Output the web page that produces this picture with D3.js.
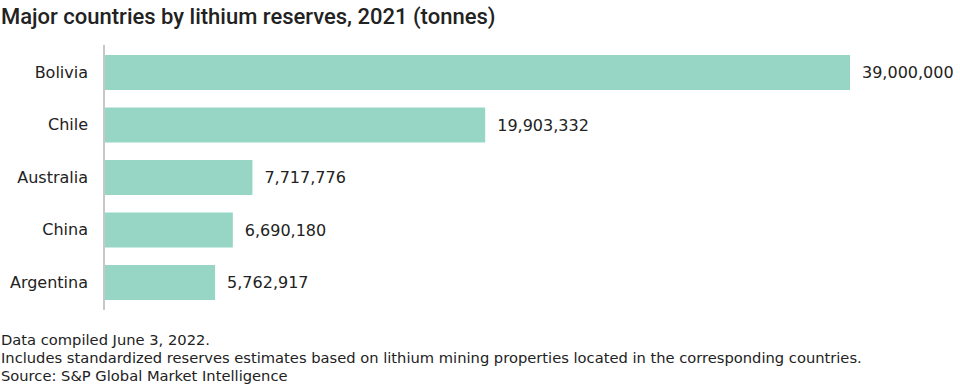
<!DOCTYPE html>
<html>
<head>
<meta charset="utf-8">
<script src="https://cdn.jsdelivr.net/npm/d3@7"></script>
<style>
  body { margin: 0; background: #fff; }
  text { font-family: "DejaVu Sans", sans-serif; fill: #222; }
</style>
</head>
<body>
<div id="chart"></div>
<script>
const countries = ["Bolivia", "Chile", "Australia", "China", "Argentina"];
const reserves = [39000000, 19903332, 7717776, 6690180, 5762917];
const notes = [
  "Data compiled June 3, 2022.",
  "Includes standardized reserves estimates based on lithium mining properties located in the corresponding countries.",
  "Source: S&P Global Market Intelligence"
];

const width = 960, height = 390;
const data = countries.map((c, i) => ({ country: c, value: reserves[i] }));

const svg = d3.select("#chart")
  .append("svg")
  .attr("width", width)
  .attr("height", height);

// title
svg.append("text")
  .attr("x", 1)
  .attr("y", 24)
  .style("font-family", "Roboto, sans-serif")
  .style("font-size", "22px")
  .style("font-weight", 500)
  .text("Major countries by lithium reserves, 2021 (tonnes)");

const x = d3.scaleLinear()
  .domain([0, 39000000])
  .range([105, 850]);

const y = d3.scaleBand()
  .domain(countries)
  .range([46.25, 308.75])
  .paddingInner(1 / 3)
  .paddingOuter(1 / 6);

// bars
svg.selectAll("rect.bar")
  .data(data)
  .join("rect")
  .attr("class", "bar")
  .attr("x", x(0))
  .attr("y", d => y(d.country))
  .attr("width", d => x(d.value) - x(0))
  .attr("height", y.bandwidth())
  .attr("fill", "#97d5c4");

// category axis
const yAxis = svg.append("g")
  .attr("transform", `translate(${x(0) - 1},0)`)
  .call(d3.axisLeft(y).tickSize(0).tickPadding(16));
yAxis.select(".domain").remove();
yAxis.selectAll("text")
  .style("font-family", "DejaVu Sans, sans-serif")
  .style("font-size", "16px")
  .attr("fill", "#222");

svg.append("line")
  .attr("x1", x(0) - 1).attr("x2", x(0) - 1)
  .attr("y1", 45).attr("y2", 310)
  .attr("stroke", "#b5b5b5")
  .attr("stroke-width", 1.5);

// value labels
svg.selectAll("text.val")
  .data(data)
  .join("text")
  .attr("class", "val")
  .attr("x", d => x(d.value) + 12)
  .attr("y", d => y(d.country) + y.bandwidth() / 2)
  .attr("dy", "0.35em")
  .style("font-size", "16px")
  .text(d => d3.format(",")(d.value));

// footnotes
svg.selectAll("text.note")
  .data(notes)
  .join("text")
  .attr("class", "note")
  .attr("x", 1)
  .attr("y", (d, i) => 345 + i * 18)
  .style("font-size", "14.7px")
  .text(d => d);
</script>
</body>
</html>
